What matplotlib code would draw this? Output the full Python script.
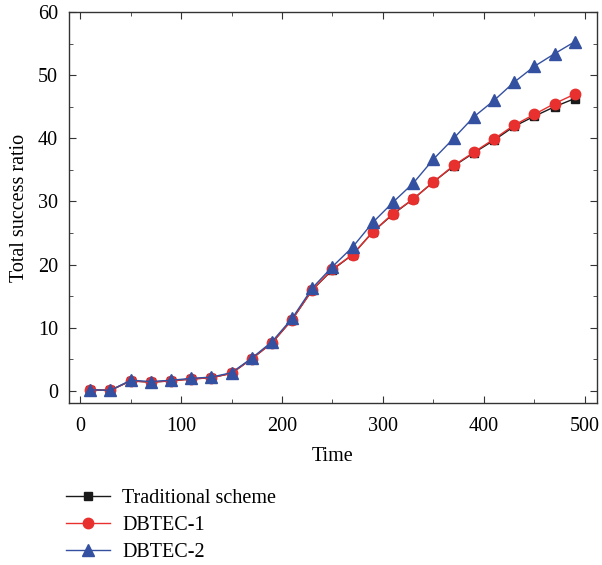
import matplotlib
matplotlib.use("Agg")
import matplotlib.pyplot as plt
from matplotlib.ticker import MultipleLocator

plt.rcParams['font.family'] = ['Liberation Serif', 'DejaVu Serif']

time = [10, 30, 50, 70, 90, 110, 130, 150, 170, 190, 210, 230, 250,
        270, 290, 310, 330, 350, 370, 390, 410, 430, 450, 470, 490]
traditional = [0.2, 0.1, 1.6, 1.4, 1.6, 1.9, 2.1, 2.8, 5.1, 7.6, 11.3, 16.0, 19.2,
               21.6, 25.2, 28.0, 30.4, 33.1, 35.6, 37.7, 39.7, 41.9, 43.5, 45.0, 46.3]
dbtec1 = [0.2, 0.1, 1.6, 1.4, 1.6, 1.9, 2.1, 2.8, 5.1, 7.6, 11.3, 16.0, 19.3,
          21.6, 25.2, 28.1, 30.4, 33.1, 35.7, 37.8, 39.9, 42.1, 43.8, 45.5, 47.0]
dbtec2 = [0.2, 0.1, 1.7, 1.5, 1.7, 2.0, 2.2, 2.9, 5.2, 7.8, 11.5, 16.3, 19.7,
          22.8, 26.7, 29.9, 32.9, 36.7, 40.0, 43.4, 46.0, 48.9, 51.4, 53.4, 55.3]
labels = ["Traditional scheme", "DBTEC-1", "DBTEC-2"]

W, H = 602, 565
fig = plt.figure(figsize=(W / 100, H / 100), dpi=100)
ax = fig.add_axes([69 / W, 1 - 403 / H, (597 - 69) / W, (403 - 12) / H])

ax.plot(time, traditional, color='#1a1a1a', lw=1.0, marker='s', ms=6,
        mfc='#1a1a1a', mec='#1a1a1a', label=labels[0])
ax.plot(time, dbtec1, color='#e8302e', lw=1.0, marker='o', ms=7.5,
        mfc='#e8302e', mec='#e8302e', label=labels[1])
ax.plot(time, dbtec2, color='#3450a0', lw=1.0, marker='^', ms=8.5,
        mfc='#3450a0', mec='#3450a0', label=labels[2])

ax.set_xlim(-11, 512)
ax.set_ylim(-1.9, 60)
ax.xaxis.set_major_locator(MultipleLocator(100))
ax.xaxis.set_minor_locator(MultipleLocator(50))
ax.yaxis.set_major_locator(MultipleLocator(10))
ax.yaxis.set_minor_locator(MultipleLocator(5))
ax.tick_params(which='both', direction='in', top=True, right=True, labelsize=14.5,
               color='#333333')
ax.tick_params(which='major', length=5)
ax.tick_params(which='minor', length=3)
ax.tick_params(axis='x', which='major', pad=10)
ax.tick_params(axis='y', which='major', pad=8)
for s in ax.spines.values():
    s.set_linewidth(1.0)
    s.set_color('#333333')

ax.set_xlabel("Time", fontsize=14.5, labelpad=8)
ax.set_ylabel("Total success ratio", fontsize=14.5, labelpad=6)

fig.legend(loc='upper left', bbox_to_anchor=(66 / W, 1 - 489 / H), frameon=False,
           fontsize=14.5, handlelength=2.2, handletextpad=0.6, labelspacing=0.4,
           borderaxespad=0, borderpad=0)

fig.savefig("out.png", dpi=100)
